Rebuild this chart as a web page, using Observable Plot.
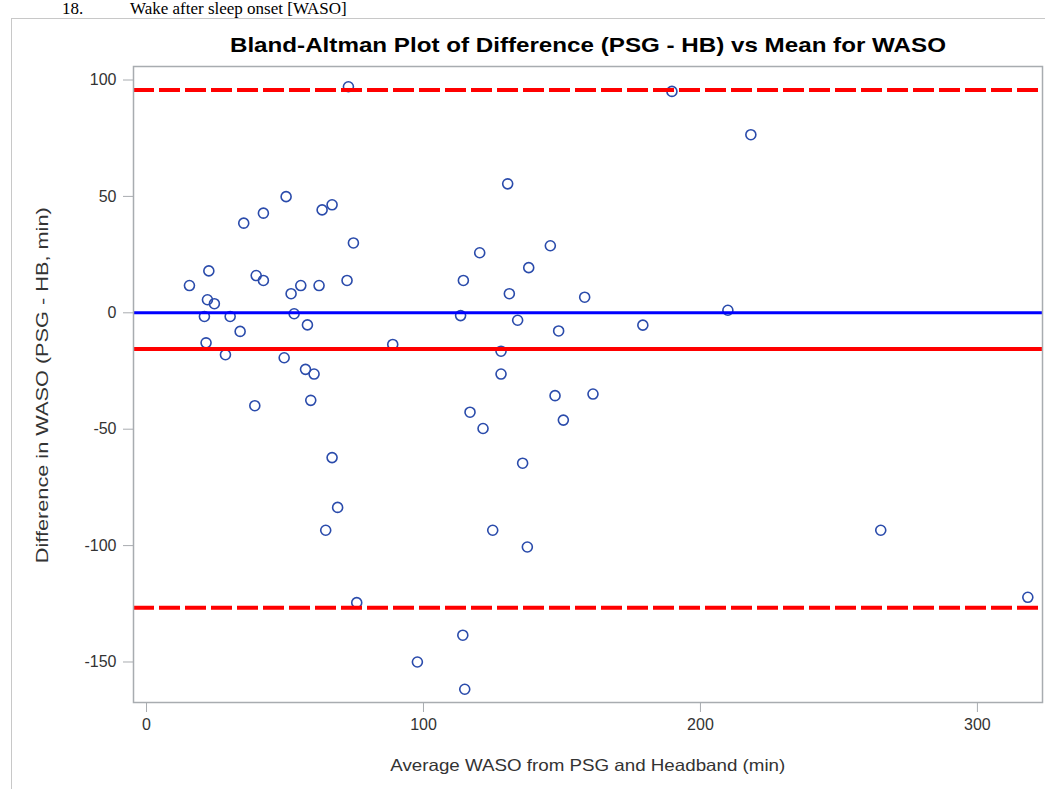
<!DOCTYPE html>
<html>
<head>
<meta charset="utf-8">
<script src="https://cdn.jsdelivr.net/npm/d3@7"></script>
<script src="https://cdn.jsdelivr.net/npm/@observablehq/plot@0.6"></script>
<style>
  html, body { margin: 0; padding: 0; background: #fff; overflow: hidden; }
  #page { position: relative; width: 1045px; height: 789px; overflow: hidden; }
  .abs { position: absolute; white-space: nowrap; }
  .serif { font-family: "Liberation Serif", "DejaVu Serif", serif; font-size: 17px; line-height: 17px; top: 0px; color: #000; }
  #box { left: 11px; top: 18px; width: 1100px; height: 900px; border: 1px solid #c8c8c8; box-sizing: border-box; }
  #title { font-family: "Liberation Sans", Arial, sans-serif; font-weight: bold; font-size: 21px; line-height: 1; color: #000; }
  #xlabel { font-family: "Liberation Sans", Arial, sans-serif; font-size: 16.5px; line-height: 1; color: #333; }
  #ylabel { font-family: "Liberation Sans", Arial, sans-serif; font-size: 16.5px; line-height: 1; color: #333; }
  #chart { position: absolute; left: 0; top: 0; }
</style>
</head>
<body>
<div id="page">
  <div id="box" class="abs"></div>
  <div class="abs serif" style="left:62px;">18.</div>
  <div class="abs serif" style="left:130px;">Wake after sleep onset [WASO]</div>
  <div id="chart"></div>
  <div id="title" class="abs">Bland-Altman Plot of Difference (PSG - HB) vs Mean for WASO</div>
  <div id="xlabel" class="abs">Average WASO from PSG and Headband (min)</div>
  <div id="ylabel" class="abs">Difference in WASO (PSG - HB, min)</div>
</div>
<script>
// Average WASO from PSG and Headband (min)
const meanWASO = [
  72.9, 50.4, 42.2, 35.1, 63.4, 67.0, 74.7, 15.5, 22.5, 39.6,
  42.2, 55.7, 62.3, 72.4, 52.2, 22.0, 24.5, 20.9, 30.2, 53.3,
  58.1, 33.8, 21.5, 88.9, 28.5, 49.7, 57.4, 60.5, 59.3, 39.1,
  67.0, 69.0, 64.7, 75.9, 97.8, 189.7, 218.2, 130.4, 120.3, 145.8,
  138.0, 114.4, 131.0, 158.2, 113.4, 209.9, 134.0, 148.8, 179.2, 128.0,
  128.0, 147.5, 161.2, 116.8, 121.5, 150.5, 135.8, 125.0, 137.5, 114.2,
  114.9, 265.1, 318.2
];
// Difference in WASO (PSG - HB, min)
const diffWASO = [
  97.1, 49.9, 42.8, 38.5, 44.2, 46.4, 30.0, 11.7, 18.0, 16.0,
  13.9, 11.7, 11.7, 13.9, 8.2, 5.6, 3.9, -1.6, -1.6, -0.4,
  -5.2, -8.0, -12.9, -13.6, -18.0, -19.3, -24.3, -26.3, -37.6, -39.9,
  -62.2, -83.6, -93.4, -124.5, -150.0, 95.1, 76.5, 55.4, 25.8, 28.8,
  19.4, 13.9, 8.2, 6.7, -1.2, 1.1, -3.2, -7.8, -5.3, -16.5,
  -26.3, -35.6, -34.9, -42.7, -49.7, -46.1, -64.6, -93.4, -100.6, -138.5,
  -161.7, -93.4, -122.2
];
// Reference lines
const zeroLine = [0];
const meanDiff = [-15.6];
const limitsOfAgreement = [95.7, -126.7];
// Tick values
const xTicks = [0, 100, 200, 300];
const yTicks = [100, 50, 0, -50, -100, -150];

const points = meanWASO.map((m, i) => ({mean: m, diff: diffWASO[i]}));
const fmt = d => String(d);

const chart = Plot.plot({
  width: 1045,
  height: 789,
  marginLeft: 133,
  marginRight: 3,
  marginTop: 66,
  marginBottom: 87,
  style: {fontFamily: "Liberation Sans, Arial, sans-serif", fontSize: "16px", color: "#333", background: "transparent"},
  x: {domain: [-4.7, 323.5]},
  y: {domain: [-167.4, 105.8]},
  marks: [
    Plot.axisX({ticks: xTicks, tickFormat: fmt, tickSize: 10, tickPadding: 6, label: null, stroke: "#a8acb0", fill: "#333", fontSize: 16}),
    Plot.axisY({ticks: yTicks, tickFormat: fmt, tickSize: 10, tickPadding: 7, label: null, stroke: "#a8acb0", fill: "#333", fontSize: 16}),
    Plot.dot(points, {x: "mean", y: "diff", r: 5, stroke: "#2a4bab", strokeWidth: 1.6, fill: "none"}),
    Plot.ruleY(zeroLine, {stroke: "#0000ff", strokeWidth: 3}),
    Plot.ruleY(meanDiff, {stroke: "#ff0000", strokeWidth: 4}),
    Plot.ruleY(limitsOfAgreement, {stroke: "#ff0000", strokeWidth: 4, strokeDasharray: "21,5"}),
    Plot.frame({stroke: "#a8acb0", strokeWidth: 1.5})
  ]
});
document.getElementById("chart").appendChild(chart);

// stretch the HTML titles horizontally to the reference's text extents
function place(el, target, cx, cy, rotate) {
  const r = el.getBoundingClientRect();
  const k = target / r.width;
  el.style.left = (cx - r.width / 2) + "px";
  el.style.top = (cy - r.height / 2) + "px";
  el.style.transformOrigin = "50% 50%";
  el.style.transform = (rotate ? "rotate(-90deg) " : "") + "scaleX(" + k + ")";
}
place(document.getElementById("title"), 716, 587.5, 44, false);
place(document.getElementById("xlabel"), 395, 587.5, 765, false);
place(document.getElementById("ylabel"), 356, 42, 385, true);
</script>
</body>
</html>
